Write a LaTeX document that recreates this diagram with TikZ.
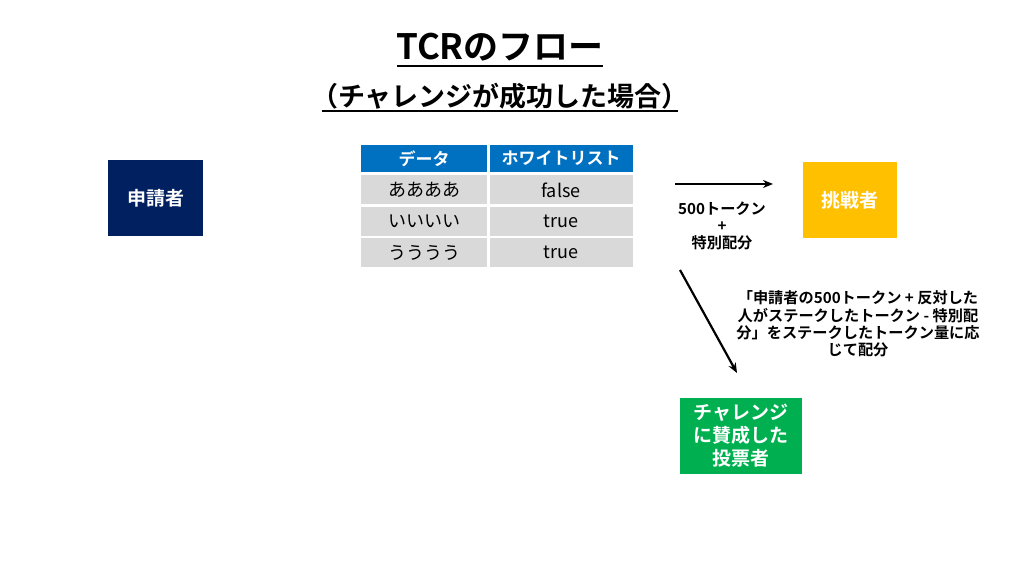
\documentclass[tikz,border=0pt]{standalone}
\usepackage{fontspec}
\setmainfont{Noto Sans CJK JP}
\newfontfamily\jpbold{Noto Sans CJK JP Bold}
\usetikzlibrary{positioning,arrows.meta}
\definecolor{navybox}{RGB}{0,32,96}
\definecolor{goldbox}{RGB}{255,192,0}
\definecolor{greenbox}{RGB}{0,176,80}
\definecolor{headblue}{RGB}{0,112,192}
\definecolor{rowgray}{RGB}{217,217,217}
\begin{document}
\begin{tikzpicture}[x=0.5pt,y=-0.5pt,
rolebox/.style={rectangle, text=white, font=\jpbold\fontsize{9.5}{11.5}\selectfont, align=center, inner sep=0pt},
headcell/.style={rectangle, fill=headblue, text=white, font=\jpbold\fontsize{8.5}{9}\selectfont, minimum height=13.5pt, inner sep=0pt},
rowcell/.style={rectangle, fill=rowgray, font=\fontsize{9}{9}\selectfont, minimum height=14.5pt, inner sep=0pt},
flowarrow/.style={-{Stealth[length=5pt,width=4pt]}, line width=1.1pt},
notetext/.style={font=\jpbold\fontsize{7.6}{8.6}\selectfont, align=center}
]
\useasboundingbox (0,0) rectangle (1024,576);
%Titles
\node[font=\jpbold\fontsize{17.5}{19}\selectfont] (title) at (500,47) {TCRのフロー};
\draw[line width=0.8pt] (397,66) -- (603,66);
\node[font=\jpbold\fontsize{13.5}{15}\selectfont] (subtitle) at (500,96) {（チャレンジが成功した場合）};
\draw[line width=0.6pt] (322,111) -- (678,111);
%Boxes
\node[rolebox, fill=navybox, minimum width=47.5pt, minimum height=38pt] (applicant) at (155.5,198) {申請者};
\node[rolebox, fill=goldbox, minimum width=47pt, minimum height=38pt] (challenger) at (850,200) {挑戦者};
\node[rolebox, fill=greenbox, minimum width=61pt, minimum height=38pt] (voters) at (741,436) {チャレンジ\\に賛成した\\投票者};
%Table
\node[headcell, minimum width=63pt] (hdata) at (424,158.5) {データ};
\node[headcell, minimum width=71.5pt] (hlist) at (561,158.5) {ホワイトリスト};
\foreach \k/\y/\d/\v in {1/190/ああああ/false, 2/221.5/いいいい/true, 3/252.5/うううう/true}{
  \node[rowcell, minimum width=63pt] (data\k) at (424,\y) {\d};
  \node[rowcell, minimum width=71.5pt] (list\k) at (561,\y) {\v};
}
%Arrows
\coordinate (pay start) at (675,184);
\coordinate (pay end) at (773,184);
\draw[flowarrow] (pay start) -- (pay end);
\node[notetext] (paylabel) at (722,226) {500トークン\\+\\特別配分};
\coordinate (split start) at (680,270);
\coordinate (split end) at (737,373);
\draw[flowarrow] (split start) -- (split end);
\node[notetext] (splitlabel) at (858,324) {「申請者の500トークン + 反対した\\人がステークしたトークン - 特別配\\分」をステークしたトークン量に応\\じて配分};
\end{tikzpicture}
\end{document}
